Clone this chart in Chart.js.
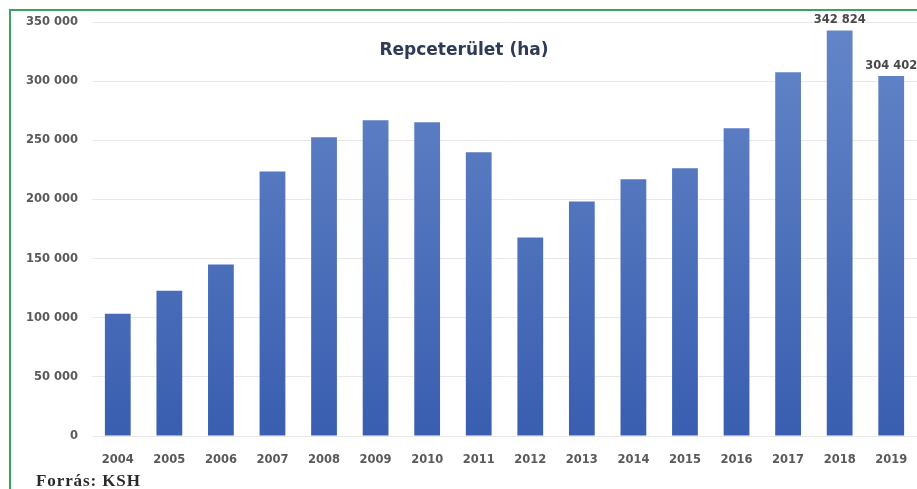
<!DOCTYPE html>
<html>
<head>
<meta charset="utf-8">
<script src="https://cdn.jsdelivr.net/npm/chart.js@4.4.1/dist/chart.umd.min.js"></script>
<style>
  body { margin: 0; background: #fff; }
  #wrap { position: relative; width: 917px; height: 489px; overflow: hidden; }
  #frame { position: absolute; left: 9px; top: 9px; width: 1000px; height: 600px;
           border-left: 2px solid #3c9f66; border-top: 2px solid #3c9f66; }
  #src { position: absolute; left: 36px; top: 471px; font-family: "Liberation Serif", "DejaVu Serif", serif;
         font-size: 17px; font-weight: bold; color: #2a2a2a; letter-spacing: 0.9px; }
  canvas { position: absolute; left: 0; top: 0; }
</style>
</head>
<body>
<div id="wrap">
  <div id="frame"></div>
  <canvas id="repce" width="917" height="489"></canvas>
  <div id="src">Forrás: KSH</div>
</div>
<script>
const years = ['2004', '2005', '2006', '2007', '2008', '2009', '2010', '2011',
               '2012', '2013', '2014', '2015', '2016', '2017', '2018', '2019'];
const area = [103400, 122900, 144900, 223700, 252500, 267000, 265300, 239800,
              167800, 198300, 217000, 226300, 260200, 307600, 342824, 304402];
const yTicks = [0, 50000, 100000, 150000, 200000, 250000, 300000, 350000];

const fmt = v => String(v).replace(/\B(?=(\d{3})+(?!\d))/g, ' ');

// title + the two value labels shown in the original
const extras = {
  id: 'extras',
  afterDatasetsDraw(chart) {
    const ctx = chart.ctx;
    ctx.save();
    ctx.textAlign = 'center';
    ctx.textBaseline = 'middle';
    ctx.fillStyle = '#2f3a57';
    ctx.font = 'bold 17px "DejaVu Sans", sans-serif';
    ctx.fillText('Repceterület (ha)', 464, 51);

    const meta = chart.getDatasetMeta(0);
    ctx.fillStyle = '#484848';
    ctx.font = 'bold 11.5px "DejaVu Sans", sans-serif';
    [14, 15].forEach(i => {
      const bar = meta.data[i];
      ctx.fillText(fmt(area[i]), bar.x, bar.y - 10);
    });
    ctx.restore();
  }
};

new Chart(document.getElementById('repce'), {
  type: 'bar',
  data: {
    labels: years,
    datasets: [{
      data: area,
      backgroundColor: (c) => {
        const a = c.chart.chartArea;
        if (!a) return '#4a6fbd';
        const g = c.chart.ctx.createLinearGradient(0, a.top, 0, a.bottom);
        g.addColorStop(0, '#6486c8');
        g.addColorStop(1, '#3a5eb0');
        return g;
      },
      borderWidth: 0,
      barPercentage: 0.5,
      categoryPercentage: 1.0,
    }]
  },
  options: {
    responsive: false,
    animation: false,
    layout: { padding: { top: 22, right: 0, bottom: 0, left: 0 } },
    plugins: {
      legend: { display: false },
      tooltip: { enabled: false },
    },
    scales: {
      x: {
        grid: { display: false },
        border: { display: false },
        ticks: { color: '#595959', padding: 9, font: { family: 'DejaVu Sans', size: 11.5, weight: 'bold' } },
        afterFit: (s) => { s.height = 53; }
      },
      y: {
        min: 0,
        max: 350000,
        afterBuildTicks: (s) => { s.ticks = yTicks.map(v => ({ value: v })); },
        grid: { color: '#e8e8e8', drawTicks: false },
        border: { display: false },
        ticks: { color: '#595959', padding: 14, callback: (v) => fmt(v),
                 font: { family: 'DejaVu Sans', size: 11.5, weight: 'bold' } },
        afterFit: (s) => { s.width = 92; }
      }
    }
  },
  plugins: [extras]
});
</script>
</body>
</html>
